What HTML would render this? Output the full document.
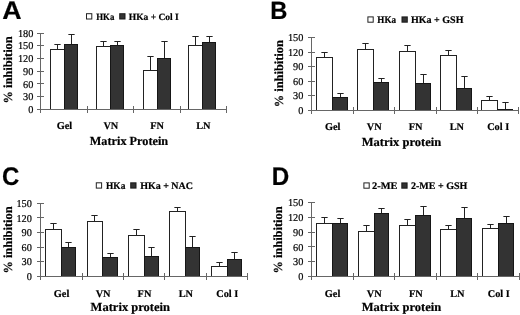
<!DOCTYPE html>
<html><head><meta charset="utf-8"><style>
html,body{margin:0;padding:0;background:#fff;width:520px;height:315px;overflow:hidden}
svg{display:block;filter:grayscale(1) blur(0.5px)}
text{text-rendering:geometricPrecision;stroke:#000;stroke-width:0.2px}

</style></head><body>
<svg width="520" height="315" viewBox="0 0 520 315" shape-rendering="auto">
<rect width="520" height="315" fill="#fff"/>
<text transform="translate(2.23 18.80) scale(1.050 1)" font-family="Liberation Sans" font-weight="bold" font-size="25.5" fill="#000">A</text>
<rect x="50.00" y="49.00" width="15.00" height="60.00" fill="#222"/>
<rect x="51.00" y="50.00" width="13.00" height="59.00" fill="#fff"/>
<rect x="64.00" y="44.00" width="14.00" height="65.00" fill="#161616"/>
<rect x="65.00" y="45.00" width="12.00" height="64.00" fill="#333"/>
<rect x="57" y="44" width="1" height="5.00" fill="#222"/>
<rect x="54.35" y="44" width="6.3" height="1" fill="#222"/>
<rect x="71" y="34" width="1" height="10.00" fill="#222"/>
<rect x="68.35" y="34" width="6.3" height="1" fill="#222"/>
<rect x="96.00" y="46.00" width="15.00" height="63.00" fill="#222"/>
<rect x="97.00" y="47.00" width="13.00" height="62.00" fill="#fff"/>
<rect x="110.00" y="45.00" width="14.00" height="64.00" fill="#161616"/>
<rect x="111.00" y="46.00" width="12.00" height="63.00" fill="#333"/>
<rect x="103" y="41" width="1" height="5.00" fill="#222"/>
<rect x="100.35" y="41" width="6.3" height="1" fill="#222"/>
<rect x="117" y="41" width="1" height="4.00" fill="#222"/>
<rect x="114.35" y="41" width="6.3" height="1" fill="#222"/>
<rect x="143.00" y="70.00" width="15.00" height="39.00" fill="#222"/>
<rect x="144.00" y="71.00" width="13.00" height="38.00" fill="#fff"/>
<rect x="157.00" y="58.00" width="14.00" height="51.00" fill="#161616"/>
<rect x="158.00" y="59.00" width="12.00" height="50.00" fill="#333"/>
<rect x="150" y="56" width="1" height="14.00" fill="#222"/>
<rect x="147.35" y="56" width="6.3" height="1" fill="#222"/>
<rect x="164" y="41" width="1" height="17.00" fill="#222"/>
<rect x="161.35" y="41" width="6.3" height="1" fill="#222"/>
<rect x="188.00" y="45.00" width="15.00" height="64.00" fill="#222"/>
<rect x="189.00" y="46.00" width="13.00" height="63.00" fill="#fff"/>
<rect x="202.00" y="42.00" width="14.00" height="67.00" fill="#161616"/>
<rect x="203.00" y="43.00" width="12.00" height="66.00" fill="#333"/>
<rect x="195" y="36" width="1" height="9.00" fill="#222"/>
<rect x="192.35" y="36" width="6.3" height="1" fill="#222"/>
<rect x="209" y="36" width="1" height="6.00" fill="#222"/>
<rect x="206.35" y="36" width="6.3" height="1" fill="#222"/>
<rect x="40.00" y="33.00" width="1.00" height="80.00" fill="#666"/>
<rect x="37.00" y="109.00" width="7.00" height="1.00" fill="#666"/>
<text transform="translate(28.25 112.99) scale(0.980 1)" font-family="Liberation Serif" font-weight="normal" font-size="10.5" fill="#000">0</text>
<rect x="37.00" y="96.00" width="7.00" height="1.00" fill="#666"/>
<text transform="translate(23.10 100.29) scale(0.980 1)" font-family="Liberation Serif" font-weight="normal" font-size="10.5" fill="#000">30</text>
<rect x="37.00" y="83.00" width="7.00" height="1.00" fill="#666"/>
<text transform="translate(23.10 87.59) scale(0.980 1)" font-family="Liberation Serif" font-weight="normal" font-size="10.5" fill="#000">60</text>
<rect x="37.00" y="71.00" width="7.00" height="1.00" fill="#666"/>
<text transform="translate(23.10 74.89) scale(0.980 1)" font-family="Liberation Serif" font-weight="normal" font-size="10.5" fill="#000">90</text>
<rect x="37.00" y="58.00" width="7.00" height="1.00" fill="#666"/>
<text transform="translate(17.96 62.19) scale(0.980 1)" font-family="Liberation Serif" font-weight="normal" font-size="10.5" fill="#000">120</text>
<rect x="37.00" y="45.00" width="7.00" height="1.00" fill="#666"/>
<text transform="translate(17.96 49.49) scale(0.980 1)" font-family="Liberation Serif" font-weight="normal" font-size="10.5" fill="#000">150</text>
<rect x="37.00" y="33.00" width="7.00" height="1.00" fill="#666"/>
<text transform="translate(17.96 36.79) scale(0.980 1)" font-family="Liberation Serif" font-weight="normal" font-size="10.5" fill="#000">180</text>
<rect x="40.00" y="109.00" width="187.00" height="1.00" fill="#666"/>
<rect x="87.00" y="106.00" width="1.00" height="7.00" fill="#666"/>
<rect x="133.00" y="106.00" width="1.00" height="7.00" fill="#666"/>
<rect x="180.00" y="106.00" width="1.00" height="7.00" fill="#666"/>
<rect x="226.00" y="106.00" width="1.00" height="7.00" fill="#666"/>
<text x="56.74" y="128.80" font-family="Liberation Serif" font-weight="bold" font-size="10.3" fill="#000">Gel</text>
<text x="103.45" y="128.80" font-family="Liberation Serif" font-weight="bold" font-size="10.3" fill="#000">VN</text>
<text x="150.24" y="128.80" font-family="Liberation Serif" font-weight="bold" font-size="10.3" fill="#000">FN</text>
<text x="196.20" y="128.80" font-family="Liberation Serif" font-weight="bold" font-size="10.3" fill="#000">LN</text>
<text transform="translate(89.79 144.80) scale(0.996 1)" font-family="Liberation Serif" font-weight="bold" font-size="12.3" fill="#000">Matrix Protein</text>
<text transform="translate(12.00 103.47) rotate(-90) scale(1.000 1)" font-family="Liberation Serif" font-weight="bold" font-size="12.4">% inhibition</text>
<rect x="86.00" y="13.20" width="6.30" height="6.30" fill="#222"/>
<rect x="87.00" y="14.20" width="4.30" height="4.30" fill="#fff"/>
<rect x="119.20" y="13.20" width="6.30" height="6.30" fill="#161616"/>
<rect x="120.20" y="14.20" width="4.30" height="4.30" fill="#333"/>
<text transform="translate(96.25 19.90) scale(0.916 1)" font-family="Liberation Serif" font-weight="bold" font-size="9.6" fill="#000">HKa</text>
<text transform="translate(128.74 19.90) scale(0.991 1)" font-family="Liberation Serif" font-weight="bold" font-size="9.6" fill="#000">HKa + Col I</text>
<text transform="translate(270.21 19.30) scale(0.950 1)" font-family="Liberation Sans" font-weight="bold" font-size="25" fill="#000">B</text>
<rect x="316.00" y="57.00" width="17.00" height="53.00" fill="#222"/>
<rect x="317.00" y="58.00" width="15.00" height="52.00" fill="#fff"/>
<rect x="332.00" y="97.00" width="16.00" height="13.00" fill="#161616"/>
<rect x="333.00" y="98.00" width="14.00" height="12.00" fill="#333"/>
<rect x="324" y="52" width="1" height="5.00" fill="#222"/>
<rect x="321.35" y="52" width="6.3" height="1" fill="#222"/>
<rect x="340" y="93" width="1" height="4.00" fill="#222"/>
<rect x="337.35" y="93" width="6.3" height="1" fill="#222"/>
<rect x="357.00" y="49.00" width="17.00" height="61.00" fill="#222"/>
<rect x="358.00" y="50.00" width="15.00" height="60.00" fill="#fff"/>
<rect x="373.00" y="82.00" width="16.00" height="28.00" fill="#161616"/>
<rect x="374.00" y="83.00" width="14.00" height="27.00" fill="#333"/>
<rect x="365" y="43" width="1" height="6.00" fill="#222"/>
<rect x="362.35" y="43" width="6.3" height="1" fill="#222"/>
<rect x="381" y="78" width="1" height="4.00" fill="#222"/>
<rect x="378.35" y="78" width="6.3" height="1" fill="#222"/>
<rect x="399.00" y="51.00" width="17.00" height="59.00" fill="#222"/>
<rect x="400.00" y="52.00" width="15.00" height="58.00" fill="#fff"/>
<rect x="415.00" y="83.00" width="16.00" height="27.00" fill="#161616"/>
<rect x="416.00" y="84.00" width="14.00" height="26.00" fill="#333"/>
<rect x="407" y="45" width="1" height="6.00" fill="#222"/>
<rect x="404.35" y="45" width="6.3" height="1" fill="#222"/>
<rect x="423" y="74" width="1" height="9.00" fill="#222"/>
<rect x="420.35" y="74" width="6.3" height="1" fill="#222"/>
<rect x="440.00" y="55.00" width="17.00" height="55.00" fill="#222"/>
<rect x="441.00" y="56.00" width="15.00" height="54.00" fill="#fff"/>
<rect x="456.00" y="88.00" width="16.00" height="22.00" fill="#161616"/>
<rect x="457.00" y="89.00" width="14.00" height="21.00" fill="#333"/>
<rect x="448" y="50" width="1" height="5.00" fill="#222"/>
<rect x="445.35" y="50" width="6.3" height="1" fill="#222"/>
<rect x="464" y="76" width="1" height="12.00" fill="#222"/>
<rect x="461.35" y="76" width="6.3" height="1" fill="#222"/>
<rect x="481.00" y="100.00" width="17.00" height="10.00" fill="#222"/>
<rect x="482.00" y="101.00" width="15.00" height="9.00" fill="#fff"/>
<rect x="497.00" y="109.00" width="16.00" height="1.00" fill="#161616"/>
<rect x="498.00" y="110.00" width="14.00" height="0.00" fill="#333"/>
<rect x="489" y="96" width="1" height="4.00" fill="#222"/>
<rect x="486.35" y="96" width="6.3" height="1" fill="#222"/>
<rect x="505" y="102" width="1" height="7.00" fill="#222"/>
<rect x="502.35" y="102" width="6.3" height="1" fill="#222"/>
<rect x="311.00" y="37.00" width="1.00" height="77.00" fill="#666"/>
<rect x="308.00" y="110.00" width="7.00" height="1.00" fill="#666"/>
<text transform="translate(298.25 113.79) scale(0.980 1)" font-family="Liberation Serif" font-weight="normal" font-size="10.5" fill="#000">0</text>
<rect x="308.00" y="95.00" width="7.00" height="1.00" fill="#666"/>
<text transform="translate(293.10 99.29) scale(0.980 1)" font-family="Liberation Serif" font-weight="normal" font-size="10.5" fill="#000">30</text>
<rect x="308.00" y="81.00" width="7.00" height="1.00" fill="#666"/>
<text transform="translate(293.10 84.79) scale(0.980 1)" font-family="Liberation Serif" font-weight="normal" font-size="10.5" fill="#000">60</text>
<rect x="308.00" y="66.00" width="7.00" height="1.00" fill="#666"/>
<text transform="translate(293.10 70.29) scale(0.980 1)" font-family="Liberation Serif" font-weight="normal" font-size="10.5" fill="#000">90</text>
<rect x="308.00" y="52.00" width="7.00" height="1.00" fill="#666"/>
<text transform="translate(287.96 55.79) scale(0.980 1)" font-family="Liberation Serif" font-weight="normal" font-size="10.5" fill="#000">120</text>
<rect x="308.00" y="37.00" width="7.00" height="1.00" fill="#666"/>
<text transform="translate(287.96 41.29) scale(0.980 1)" font-family="Liberation Serif" font-weight="normal" font-size="10.5" fill="#000">150</text>
<rect x="311.00" y="110.00" width="208.00" height="1.00" fill="#666"/>
<rect x="353.00" y="107.00" width="1.00" height="7.00" fill="#666"/>
<rect x="394.00" y="107.00" width="1.00" height="7.00" fill="#666"/>
<rect x="436.00" y="107.00" width="1.00" height="7.00" fill="#666"/>
<rect x="477.00" y="107.00" width="1.00" height="7.00" fill="#666"/>
<rect x="518.00" y="107.00" width="1.00" height="7.00" fill="#666"/>
<text x="324.99" y="130.40" font-family="Liberation Serif" font-weight="bold" font-size="10.3" fill="#000">Gel</text>
<text x="366.80" y="130.40" font-family="Liberation Serif" font-weight="bold" font-size="10.3" fill="#000">VN</text>
<text x="408.69" y="130.40" font-family="Liberation Serif" font-weight="bold" font-size="10.3" fill="#000">FN</text>
<text x="449.75" y="130.40" font-family="Liberation Serif" font-weight="bold" font-size="10.3" fill="#000">LN</text>
<text x="487.18" y="130.40" font-family="Liberation Serif" font-weight="bold" font-size="10.3" fill="#000">Col I</text>
<text transform="translate(361.69 145.90) scale(1.020 1)" font-family="Liberation Serif" font-weight="bold" font-size="12.3" fill="#000">Matrix protein</text>
<text transform="translate(282.50 107.27) rotate(-90) scale(1.000 1)" font-family="Liberation Serif" font-weight="bold" font-size="12.4">% inhibition</text>
<rect x="367.40" y="16.40" width="6.30" height="6.30" fill="#222"/>
<rect x="368.40" y="17.40" width="4.30" height="4.30" fill="#fff"/>
<rect x="401.50" y="16.40" width="6.30" height="6.30" fill="#161616"/>
<rect x="402.50" y="17.40" width="4.30" height="4.30" fill="#333"/>
<text transform="translate(377.34 23.20) scale(0.909 1)" font-family="Liberation Serif" font-weight="bold" font-size="10" fill="#000">HKa</text>
<text transform="translate(411.03 23.20) scale(1.001 1)" font-family="Liberation Serif" font-weight="bold" font-size="10" fill="#000">HKa + GSH</text>
<text transform="translate(2.02 185.10) scale(0.940 1)" font-family="Liberation Sans" font-weight="bold" font-size="25.5" fill="#000">C</text>
<rect x="45.00" y="229.00" width="17.00" height="47.00" fill="#222"/>
<rect x="46.00" y="230.00" width="15.00" height="46.00" fill="#fff"/>
<rect x="61.00" y="247.00" width="15.00" height="29.00" fill="#161616"/>
<rect x="62.00" y="248.00" width="13.00" height="28.00" fill="#333"/>
<rect x="53" y="223" width="1" height="6.00" fill="#222"/>
<rect x="50.35" y="223" width="6.3" height="1" fill="#222"/>
<rect x="68" y="242" width="1" height="5.00" fill="#222"/>
<rect x="65.35" y="242" width="6.3" height="1" fill="#222"/>
<rect x="87.00" y="221.00" width="16.00" height="55.00" fill="#222"/>
<rect x="88.00" y="222.00" width="14.00" height="54.00" fill="#fff"/>
<rect x="102.00" y="257.00" width="16.00" height="19.00" fill="#161616"/>
<rect x="103.00" y="258.00" width="14.00" height="18.00" fill="#333"/>
<rect x="94" y="215" width="1" height="6.00" fill="#222"/>
<rect x="91.35" y="215" width="6.3" height="1" fill="#222"/>
<rect x="110" y="253" width="1" height="4.00" fill="#222"/>
<rect x="107.35" y="253" width="6.3" height="1" fill="#222"/>
<rect x="128.00" y="235.00" width="17.00" height="41.00" fill="#222"/>
<rect x="129.00" y="236.00" width="15.00" height="40.00" fill="#fff"/>
<rect x="144.00" y="256.00" width="15.00" height="20.00" fill="#161616"/>
<rect x="145.00" y="257.00" width="13.00" height="19.00" fill="#333"/>
<rect x="136" y="229" width="1" height="6.00" fill="#222"/>
<rect x="133.35" y="229" width="6.3" height="1" fill="#222"/>
<rect x="151" y="247" width="1" height="9.00" fill="#222"/>
<rect x="148.35" y="247" width="6.3" height="1" fill="#222"/>
<rect x="169.00" y="211.00" width="17.00" height="65.00" fill="#222"/>
<rect x="170.00" y="212.00" width="15.00" height="64.00" fill="#fff"/>
<rect x="185.00" y="247.00" width="15.00" height="29.00" fill="#161616"/>
<rect x="186.00" y="248.00" width="13.00" height="28.00" fill="#333"/>
<rect x="177" y="207" width="1" height="4.00" fill="#222"/>
<rect x="174.35" y="207" width="6.3" height="1" fill="#222"/>
<rect x="192" y="236" width="1" height="11.00" fill="#222"/>
<rect x="189.35" y="236" width="6.3" height="1" fill="#222"/>
<rect x="211.00" y="266.00" width="17.00" height="10.00" fill="#222"/>
<rect x="212.00" y="267.00" width="15.00" height="9.00" fill="#fff"/>
<rect x="227.00" y="259.00" width="15.00" height="17.00" fill="#161616"/>
<rect x="228.00" y="260.00" width="13.00" height="16.00" fill="#333"/>
<rect x="219" y="262" width="1" height="4.00" fill="#222"/>
<rect x="216.35" y="262" width="6.3" height="1" fill="#222"/>
<rect x="234" y="252" width="1" height="7.00" fill="#222"/>
<rect x="231.35" y="252" width="6.3" height="1" fill="#222"/>
<rect x="40.00" y="203.00" width="1.00" height="77.00" fill="#666"/>
<rect x="37.00" y="276.00" width="7.00" height="1.00" fill="#666"/>
<text transform="translate(26.75 279.99) scale(0.980 1)" font-family="Liberation Serif" font-weight="normal" font-size="10.5" fill="#000">0</text>
<rect x="37.00" y="261.00" width="7.00" height="1.00" fill="#666"/>
<text transform="translate(21.60 265.43) scale(0.980 1)" font-family="Liberation Serif" font-weight="normal" font-size="10.5" fill="#000">30</text>
<rect x="37.00" y="247.00" width="7.00" height="1.00" fill="#666"/>
<text transform="translate(21.60 250.87) scale(0.980 1)" font-family="Liberation Serif" font-weight="normal" font-size="10.5" fill="#000">60</text>
<rect x="37.00" y="232.00" width="7.00" height="1.00" fill="#666"/>
<text transform="translate(21.60 236.31) scale(0.980 1)" font-family="Liberation Serif" font-weight="normal" font-size="10.5" fill="#000">90</text>
<rect x="37.00" y="217.00" width="7.00" height="1.00" fill="#666"/>
<text transform="translate(16.46 221.75) scale(0.980 1)" font-family="Liberation Serif" font-weight="normal" font-size="10.5" fill="#000">120</text>
<rect x="37.00" y="203.00" width="7.00" height="1.00" fill="#666"/>
<text transform="translate(16.46 207.19) scale(0.980 1)" font-family="Liberation Serif" font-weight="normal" font-size="10.5" fill="#000">150</text>
<rect x="40.00" y="276.00" width="208.00" height="1.00" fill="#666"/>
<rect x="82.00" y="273.00" width="1.00" height="7.00" fill="#666"/>
<rect x="123.00" y="273.00" width="1.00" height="7.00" fill="#666"/>
<rect x="164.00" y="273.00" width="1.00" height="7.00" fill="#666"/>
<rect x="206.00" y="273.00" width="1.00" height="7.00" fill="#666"/>
<rect x="247.00" y="273.00" width="1.00" height="7.00" fill="#666"/>
<text x="53.81" y="296.60" font-family="Liberation Serif" font-weight="bold" font-size="10.3" fill="#000">Gel</text>
<text x="95.67" y="296.60" font-family="Liberation Serif" font-weight="bold" font-size="10.3" fill="#000">VN</text>
<text x="137.61" y="296.60" font-family="Liberation Serif" font-weight="bold" font-size="10.3" fill="#000">FN</text>
<text x="178.73" y="296.60" font-family="Liberation Serif" font-weight="bold" font-size="10.3" fill="#000">LN</text>
<text x="216.21" y="296.60" font-family="Liberation Serif" font-weight="bold" font-size="10.3" fill="#000">Col I</text>
<text transform="translate(90.59 311.40) scale(1.019 1)" font-family="Liberation Serif" font-weight="bold" font-size="12.3" fill="#000">Matrix protein</text>
<text transform="translate(11.80 273.57) rotate(-90) scale(1.000 1)" font-family="Liberation Serif" font-weight="bold" font-size="12.4">% inhibition</text>
<rect x="95.80" y="182.30" width="6.30" height="6.30" fill="#222"/>
<rect x="96.80" y="183.30" width="4.30" height="4.30" fill="#fff"/>
<rect x="130.20" y="182.30" width="6.30" height="6.30" fill="#161616"/>
<rect x="131.20" y="183.30" width="4.30" height="4.30" fill="#333"/>
<text transform="translate(106.04 188.90) scale(0.939 1)" font-family="Liberation Serif" font-weight="bold" font-size="10" fill="#000">HKa</text>
<text transform="translate(140.13 188.90) scale(0.998 1)" font-family="Liberation Serif" font-weight="bold" font-size="10" fill="#000">HKa + NAC</text>
<text transform="translate(271.78 184.90) scale(0.950 1)" font-family="Liberation Sans" font-weight="bold" font-size="25.5" fill="#000">D</text>
<rect x="316.00" y="223.00" width="17.00" height="53.00" fill="#222"/>
<rect x="317.00" y="224.00" width="15.00" height="52.00" fill="#fff"/>
<rect x="332.00" y="223.00" width="16.00" height="53.00" fill="#161616"/>
<rect x="333.00" y="224.00" width="14.00" height="52.00" fill="#333"/>
<rect x="324" y="217" width="1" height="6.00" fill="#222"/>
<rect x="321.35" y="217" width="6.3" height="1" fill="#222"/>
<rect x="340" y="218" width="1" height="5.00" fill="#222"/>
<rect x="337.35" y="218" width="6.3" height="1" fill="#222"/>
<rect x="358.00" y="231.00" width="17.00" height="45.00" fill="#222"/>
<rect x="359.00" y="232.00" width="15.00" height="44.00" fill="#fff"/>
<rect x="374.00" y="213.00" width="15.00" height="63.00" fill="#161616"/>
<rect x="375.00" y="214.00" width="13.00" height="62.00" fill="#333"/>
<rect x="366" y="225" width="1" height="6.00" fill="#222"/>
<rect x="363.35" y="225" width="6.3" height="1" fill="#222"/>
<rect x="381" y="208" width="1" height="5.00" fill="#222"/>
<rect x="378.35" y="208" width="6.3" height="1" fill="#222"/>
<rect x="399.00" y="225.00" width="17.00" height="51.00" fill="#222"/>
<rect x="400.00" y="226.00" width="15.00" height="50.00" fill="#fff"/>
<rect x="415.00" y="215.00" width="16.00" height="61.00" fill="#161616"/>
<rect x="416.00" y="216.00" width="14.00" height="60.00" fill="#333"/>
<rect x="407" y="219" width="1" height="6.00" fill="#222"/>
<rect x="404.35" y="219" width="6.3" height="1" fill="#222"/>
<rect x="423" y="206" width="1" height="9.00" fill="#222"/>
<rect x="420.35" y="206" width="6.3" height="1" fill="#222"/>
<rect x="440.00" y="229.00" width="17.00" height="47.00" fill="#222"/>
<rect x="441.00" y="230.00" width="15.00" height="46.00" fill="#fff"/>
<rect x="456.00" y="218.00" width="16.00" height="58.00" fill="#161616"/>
<rect x="457.00" y="219.00" width="14.00" height="57.00" fill="#333"/>
<rect x="448" y="225" width="1" height="4.00" fill="#222"/>
<rect x="445.35" y="225" width="6.3" height="1" fill="#222"/>
<rect x="464" y="207" width="1" height="11.00" fill="#222"/>
<rect x="461.35" y="207" width="6.3" height="1" fill="#222"/>
<rect x="482.00" y="228.00" width="17.00" height="48.00" fill="#222"/>
<rect x="483.00" y="229.00" width="15.00" height="47.00" fill="#fff"/>
<rect x="498.00" y="223.00" width="16.00" height="53.00" fill="#161616"/>
<rect x="499.00" y="224.00" width="14.00" height="52.00" fill="#333"/>
<rect x="490" y="224" width="1" height="4.00" fill="#222"/>
<rect x="487.35" y="224" width="6.3" height="1" fill="#222"/>
<rect x="506" y="216" width="1" height="7.00" fill="#222"/>
<rect x="503.35" y="216" width="6.3" height="1" fill="#222"/>
<rect x="311.00" y="202.00" width="1.00" height="78.00" fill="#666"/>
<rect x="308.00" y="276.00" width="7.00" height="1.00" fill="#666"/>
<text transform="translate(298.25 280.09) scale(0.980 1)" font-family="Liberation Serif" font-weight="normal" font-size="10.5" fill="#000">0</text>
<rect x="308.00" y="261.00" width="7.00" height="1.00" fill="#666"/>
<text transform="translate(293.10 265.35) scale(0.980 1)" font-family="Liberation Serif" font-weight="normal" font-size="10.5" fill="#000">30</text>
<rect x="308.00" y="246.00" width="7.00" height="1.00" fill="#666"/>
<text transform="translate(293.10 250.61) scale(0.980 1)" font-family="Liberation Serif" font-weight="normal" font-size="10.5" fill="#000">60</text>
<rect x="308.00" y="232.00" width="7.00" height="1.00" fill="#666"/>
<text transform="translate(293.10 235.87) scale(0.980 1)" font-family="Liberation Serif" font-weight="normal" font-size="10.5" fill="#000">90</text>
<rect x="308.00" y="217.00" width="7.00" height="1.00" fill="#666"/>
<text transform="translate(287.96 221.13) scale(0.980 1)" font-family="Liberation Serif" font-weight="normal" font-size="10.5" fill="#000">120</text>
<rect x="308.00" y="202.00" width="7.00" height="1.00" fill="#666"/>
<text transform="translate(287.96 206.39) scale(0.980 1)" font-family="Liberation Serif" font-weight="normal" font-size="10.5" fill="#000">150</text>
<rect x="311.00" y="276.00" width="209.00" height="1.00" fill="#666"/>
<rect x="353.00" y="273.00" width="1.00" height="7.00" fill="#666"/>
<rect x="394.00" y="273.00" width="1.00" height="7.00" fill="#666"/>
<rect x="436.00" y="273.00" width="1.00" height="7.00" fill="#666"/>
<rect x="477.00" y="273.00" width="1.00" height="7.00" fill="#666"/>
<rect x="519.00" y="273.00" width="1.00" height="7.00" fill="#666"/>
<text x="324.87" y="296.70" font-family="Liberation Serif" font-weight="bold" font-size="10.3" fill="#000">Gel</text>
<text x="366.85" y="296.70" font-family="Liberation Serif" font-weight="bold" font-size="10.3" fill="#000">VN</text>
<text x="408.91" y="296.70" font-family="Liberation Serif" font-weight="bold" font-size="10.3" fill="#000">FN</text>
<text x="450.15" y="296.70" font-family="Liberation Serif" font-weight="bold" font-size="10.3" fill="#000">LN</text>
<text x="487.75" y="296.70" font-family="Liberation Serif" font-weight="bold" font-size="10.3" fill="#000">Col I</text>
<text transform="translate(361.69 311.40) scale(1.020 1)" font-family="Liberation Serif" font-weight="bold" font-size="12.3" fill="#000">Matrix protein</text>
<text transform="translate(282.30 273.57) rotate(-90) scale(1.000 1)" font-family="Liberation Serif" font-weight="bold" font-size="12.4">% inhibition</text>
<rect x="363.40" y="182.40" width="6.30" height="6.30" fill="#222"/>
<rect x="364.40" y="183.40" width="4.30" height="4.30" fill="#fff"/>
<rect x="401.30" y="182.40" width="6.30" height="6.30" fill="#161616"/>
<rect x="402.30" y="183.40" width="4.30" height="4.30" fill="#333"/>
<text transform="translate(372.06 189.10) scale(1.042 1)" font-family="Liberation Serif" font-weight="bold" font-size="10" fill="#000">2-ME</text>
<text transform="translate(410.98 189.10) scale(1.002 1)" font-family="Liberation Serif" font-weight="bold" font-size="10" fill="#000">2-ME + GSH</text>
</svg></body></html>
